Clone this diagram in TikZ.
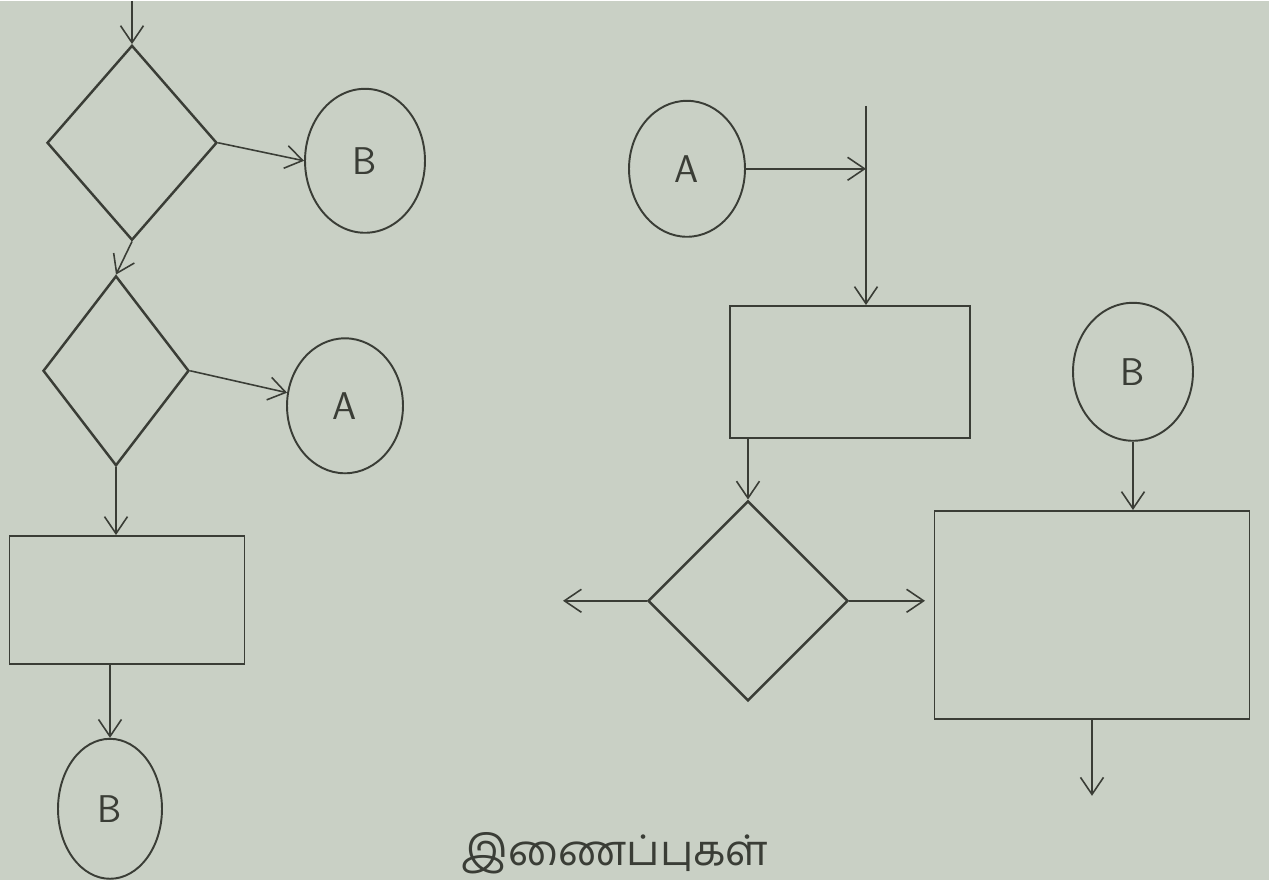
\documentclass[tikz,border=0pt]{standalone}
\usepackage{fontspec}
\usepackage{tikz}
\usetikzlibrary{arrows.meta, positioning, calc, shapes.geometric}
\newfontfamily\tamilfont[Script=Tamil]{Hind Madurai}
\definecolor{paperA}{HTML}{C9D0C5}
\definecolor{inkA}{HTML}{3A3D36}
\tikzset{
  decide/.style={
    diamond, draw=inkA, line width=1.4pt, inner sep=0pt,
    minimum width=#1
  },
  procbox/.style={
    rectangle, draw=inkA, line width=0.9pt, inner sep=0pt
  },
  conn/.style={
    ellipse, draw=inkA, line width=1.1pt, inner sep=0pt,
    text=inkA, font=\sffamily\fontsize{22}{26}\selectfont
  },
  arrow/.style={-{Straight Barb[length=3.4mm, width=4.6mm]}, line width=0.9pt, draw=inkA}
}

\begin{document}
\begin{tikzpicture}[x=0.02cm, y=-0.02cm]
  \fill[paperA] (0,0) rectangle (1269,879);
  % left column
  \coordinate (in1) at (132,0);
  \node[decide=3.4cm, minimum height=3.9cm] (dia1) at (132,142) {};
  \node[conn, minimum width=2.4cm, minimum height=2.88cm] (B1) at (365,160) {B};
  \node[decide=2.92cm, minimum height=3.8cm] (dia2) at (116,370) {};
  \node[conn, minimum width=2.32cm, minimum height=2.7cm] (A1) at (345,405) {A};
  \node[procbox, minimum width=4.7cm, minimum height=2.56cm] (rect1) at (127,599) {};
  \node[conn, minimum width=2.08cm, minimum height=2.8cm] (B2) at (110,808) {B};
  \draw[arrow] (in1) -- (dia1.north);
  \draw[arrow] (dia1.east) -- (B1.west);
  \draw[arrow] (dia1.south) -- (dia2.north);
  \draw[arrow] (dia2.east) -- (A1);
  \draw[arrow] (dia2.south) -- (dia2.south |- rect1.north);
  \draw[arrow] (B2.north |- rect1.south) -- (B2.north);
  % right part
  \node[conn, minimum width=2.32cm, minimum height=2.72cm] (A2) at (687,168) {A};
  \coordinate (vtop) at (866,105);
  \coordinate (join) at (866,168);
  \node[procbox, minimum width=4.8cm, minimum height=2.64cm] (rect2) at (850,371) {};
  \node[decide=4cm, minimum height=4cm] (dia3) at (748,600) {};
  \coordinate (outL) at (563,600);
  \coordinate (outR) at (925,600);
  \node[conn, minimum width=2.4cm, minimum height=2.76cm] (B3) at (1133,371) {B};
  \node[procbox, minimum width=6.3cm, minimum height=4.16cm] (rect3) at (1092,614) {};
  \coordinate (outD) at (1092,795);
  \draw[arrow] (vtop) -- (vtop |- rect2.north);
  \draw[arrow] (A2.east) -- (join);
  \draw[arrow] (dia3.north |- rect2.south) -- (dia3.north);
  \draw[arrow] (dia3.west) -- (outL);
  \draw[arrow] (dia3.east) -- (outR);
  \draw[arrow] (B3.south) -- (B3.south |- rect3.north);
  \draw[arrow] (rect3.south) -- (outD);
  % caption
  \node[anchor=south, text=inkA, font=\tamilfont\fontsize{24}{28}\selectfont] (cap) at (615,879) {இணைப்புகள்};
\end{tikzpicture}
\end{document}
